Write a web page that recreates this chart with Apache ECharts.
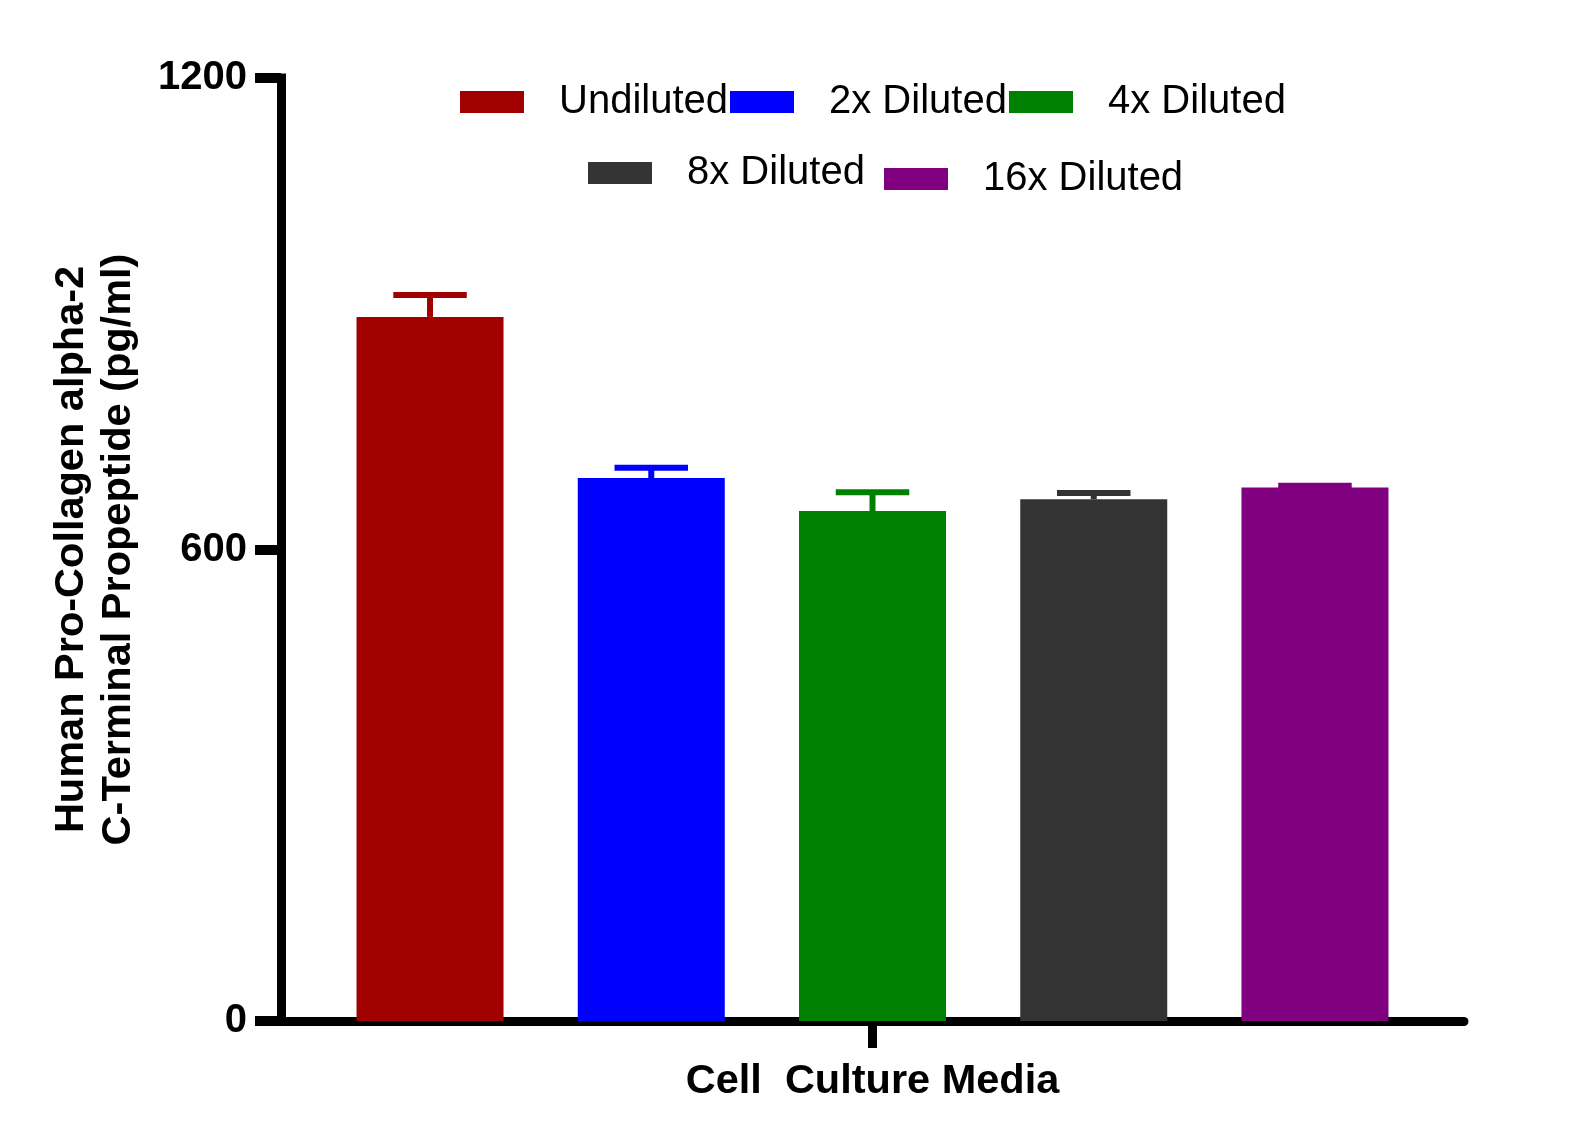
<!DOCTYPE html>
<html><head><meta charset="utf-8">
<script src="https://cdn.jsdelivr.net/npm/echarts@6/dist/echarts.min.js"></script>
<style>html,body{margin:0;padding:0;background:#fff}#c{width:1594px;height:1143px}</style>
</head><body><div id="c"></div>
<script>
const categories = ["Cell  Culture Media"];
const seriesNames = ["Undiluted", "2x Diluted", "4x Diluted", "8x Diluted", "16x Diluted"];
const means = [896, 691, 649, 664, 679];
const errors = [28, 13, 24, 8, 2];
const colors = ["#a00000", "#0000ff", "#008000", "#333333", "#800080"];
const yTicks = [0, 600, 1200];
const yTitle = "Human Pro-Collagen alpha-2\nC-Terminal Propeptide (pg/ml)";

const FONT = "'Liberation Sans', Arial, sans-serif";
const BAR_W = 147;
const BAR_GAP = 0.505;

const chart = echarts.init(document.getElementById('c'), null, {renderer: 'canvas'});

const legendPos = [
  {left: 460, top: 81}, {left: 730, top: 81}, {left: 1009, top: 81},
  {left: 588, top: 152}, {left: 884, top: 158}
];
const legends = seriesNames.map((n, i) => ({
  data: [n], left: legendPos[i].left, top: legendPos[i].top, padding: 0,
  itemWidth: 64, itemHeight: 22, icon: 'rect', selectedMode: false,
  textStyle: {fontFamily: FONT, fontSize: 40, lineHeight: 40, color: '#000', padding: [2, 0, 0, 30]}
}));

const barSeries = seriesNames.map((n, i) => ({
  name: n, type: 'bar', data: [means[i]], barWidth: BAR_W, barGap: (BAR_GAP * 100) + '%',
  itemStyle: {color: colors[i]}, z: 2
}));

const errSeries = {
  type: 'custom', name: 'err', z: 3, silent: true,
  data: means.map((m, i) => [0, m, m + errors[i], i]),
  encode: {x: 0, y: [1, 2]},
  renderItem: function (params, api) {
    const i = api.value(3);
    const base = api.coord([api.value(0), api.value(1)]);
    const top = api.coord([api.value(0), api.value(2)]);
    const off = (i - (seriesNames.length - 1) / 2) * BAR_W * (1 + BAR_GAP);
    const x = base[0] + off;
    const half = BAR_W / 4;
    const st = {stroke: colors[i], lineWidth: 6};
    return {
      type: 'group', children: [
        {type: 'line', shape: {x1: x, y1: base[1], x2: x, y2: top[1]}, style: st},
        {type: 'line', shape: {x1: x - half, y1: top[1], x2: x + half, y2: top[1]}, style: st}
      ]
    };
  }
};

chart.setOption({
  animation: false,
  backgroundColor: '#fff',
  legend: legends,
  grid: {left: 281, right: 130, top: 78, bottom: 122, containLabel: false, outerBoundsMode: 'none'},
  xAxis: [{
    type: 'category', data: categories,
    axisLine: {lineStyle: {color: '#000', width: 9}},
    axisTick: {show: false},
    axisLabel: {fontFamily: FONT, fontSize: 41.5, fontWeight: 'bold', color: '#000', margin: 40},
    splitLine: {show: false}
  }, {
    // helper axis that only carries the centre tick mark
    type: 'category', data: ['', '', ''], boundaryGap: false, position: 'bottom',
    axisLine: {show: false},
    axisTick: {show: true, interval: function (idx) { return idx === 1; }, length: 27, lineStyle: {color: '#000', width: 9}},
    axisLabel: {show: false},
    splitLine: {show: false}
  }],
  yAxis: {
    type: 'value', min: yTicks[0], max: yTicks[yTicks.length - 1], interval: yTicks[1] - yTicks[0],
    axisLine: {show: true, lineStyle: {color: '#000', width: 9, cap: 'square'}},
    axisTick: {show: true, length: 26, lineStyle: {color: '#000', width: 10}},
    axisLabel: {fontFamily: FONT, fontSize: 40, fontWeight: 'bold', color: '#000', margin: 34,
      formatter: function (v) { return String(v); }},
    splitLine: {show: false},
    name: yTitle, nameLocation: 'middle', nameRotate: 90, nameGap: 139,
    nameTextStyle: {fontFamily: FONT, fontSize: 41.5, fontWeight: 'bold', color: '#000', lineHeight: 47, align: 'center'}
  },
  series: barSeries.concat([errSeries])
});
</script>
</body></html>
